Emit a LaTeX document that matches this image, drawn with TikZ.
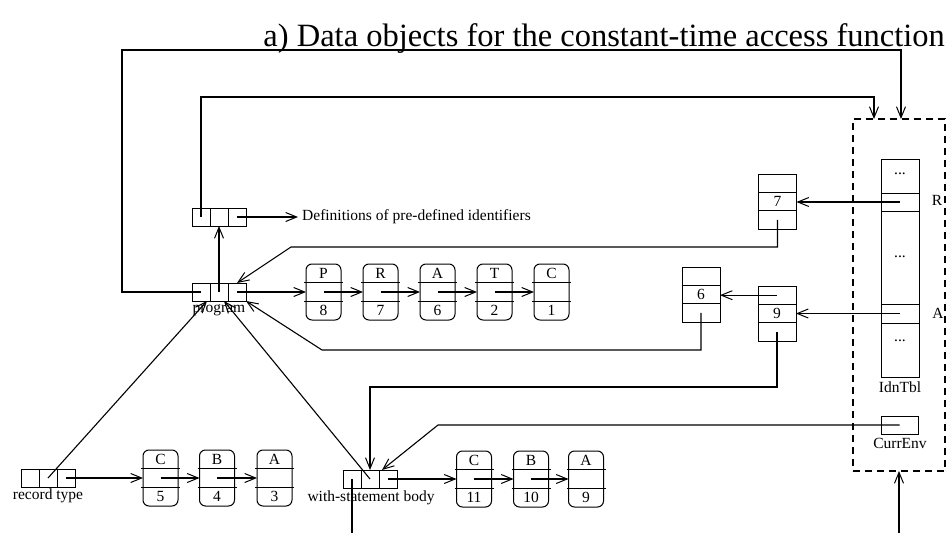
\documentclass[tikz,border=0pt]{standalone}
\usepackage{fontspec}
\setmainfont{Liberation Serif}
\usetikzlibrary{arrows.meta,calc}
\newcommand\recnode[5]{%
  \node[rec] (#1) at (#2,#3) {};
  \draw[bl] ([xshift=-2pt,yshift=9.3pt]#1.west) -- ([xshift=2pt,yshift=9.3pt]#1.east);
  \draw[bl] ([xshift=-2pt,yshift=-9.3pt]#1.west) -- ([xshift=2pt,yshift=-9.3pt]#1.east);
  \node[txt] (#1-t) at ([yshift=18.6pt]#1.center) {#4};
  \node[txt] (#1-b) at ([yshift=-18.6pt]#1.center) {#5};
}
\newcommand\tribox[4]{%
  \node[vbx] (#1) at (#2,#3) {};
  \draw[bl] ([yshift=9.2pt]#1.west) -- ([yshift=9.2pt]#1.east);
  \draw[bl] ([yshift=-9.2pt]#1.west) -- ([yshift=-9.2pt]#1.east);
  \node[txt] (#1-l) at (#1.center) {#4};
  \coordinate (#1-top) at ([yshift=18.3pt]#1.center);
  \coordinate (#1-bot) at ([yshift=-18.3pt]#1.center);
}
\begin{document}
\begin{tikzpicture}[x=1pt,y=-1pt,
  every node/.style={font=\fontsize{15.5}{18}\selectfont},
  ln/.style={line width=1.1pt},
  bl/.style={line width=1pt},
  arr/.style={ln,-{Straight Barb[length=11pt,width=9pt,line width=1pt]}},
  cell/.style={draw,line width=1pt,minimum width=18pt,minimum height=18pt,inner sep=0pt,outer sep=0pt},
  rec/.style={draw,line width=1pt,rounded corners=6pt,minimum width=35pt,minimum height=56pt,inner sep=0pt,outer sep=0pt},
  vbx/.style={draw,line width=1pt,minimum width=38pt,minimum height=55pt,inner sep=0pt,outer sep=0pt},
  idc/.style={draw,line width=1pt,minimum width=38pt,inner sep=0pt,outer sep=0pt},
  txt/.style={inner sep=0pt},
]
\useasboundingbox (0,0) rectangle (946,533);

% title
\node[anchor=base east,inner sep=0pt,font=\fontsize{32.5}{36}\selectfont] (title) at (945,46)
  {a) Data objects for the constant-time access function};

% environment (dashed)
\node[draw,line width=1.1pt,dash pattern=on 7pt off 5pt,minimum width=92pt,minimum height=352pt,inner sep=0pt,outer sep=0pt] (env) at (899,295) {};
\coordinate (envT1) at ([xshift=-25pt]env.north);
\coordinate (envT2) at ([xshift=2pt]env.north);

% IdnTbl
\node[idc,minimum height=34pt] (idn1) at (900,176) {};
\node[idc,minimum height=18pt] (idnR) at (900,202) {};
\node[idc,minimum height=93pt] (idn2) at (900,257.5) {};
\node[idc,minimum height=19pt] (idnA) at (900,313.5) {};
\node[idc,minimum height=54pt] (idn3) at (900,350) {};
\node[txt] (d1) at (900,174) {...};
\node[txt] (d2) at (900,257) {...};
\node[txt] (d3) at (900,341) {...};
\node[txt] (Rlab) at (937,200) {R};
\node[txt] (Alab) at (938,313) {A};
\node[txt] (idnlab) at (900,387) {IdnTbl};
\node[draw,line width=1pt,minimum width=37pt,minimum height=18pt,inner sep=0pt,outer sep=0pt] (cur) at (899.5,425) {};
\node[txt] (curlab) at (900,443) {CurrEnv};

% three-cell vertical boxes
\tribox{b7}{777.5}{201.5}{7}
\tribox{b6}{701}{294.5}{6}
\tribox{b9}{777}{313.5}{9}

% definitions box
\node[cell] (defA) at (201,217) {};
\node[cell] (defB) at (219,217) {};
\node[cell] (defC) at (237,217) {};
\node[txt,anchor=west] (deftxt) at (302,217) {Definitions of pre-defined identifiers};

% program box
\node[cell] (progA) at (201,292) {};
\node[cell] (progB) at (219,292) {};
\node[cell] (progC) at (237,292) {};
\node[txt] (proglab) at (219,310) {program};

% record type box
\node[cell] (recA) at (30,478) {};
\node[cell] (recB) at (48,478) {};
\node[cell] (recC) at (66,478) {};
\node[txt] (reclab) at (48,496) {record type};

% with-statement box
\node[cell] (withA) at (352,479) {};
\node[cell] (withB) at (370,479) {};
\node[cell] (withC) at (388,479) {};
\node[txt] (withlab) at (371,498) {with-statement body};

% record nodes
\recnode{p1}{323.5}{292}{P}{8}
\recnode{p2}{380.5}{292}{R}{7}
\recnode{p3}{437.5}{292}{A}{6}
\recnode{p4}{494.5}{292}{T}{2}
\recnode{p5}{551.5}{292}{C}{1}

\recnode{r1}{160.5}{478}{C}{5}
\recnode{r2}{217}{478}{B}{4}
\recnode{r3}{274.5}{478}{A}{3}

\recnode{w1}{474}{479}{C}{11}
\recnode{w2}{531}{479}{B}{10}
\recnode{w3}{586}{479}{A}{9}

% connectors
\draw[arr] (progA.center) -- (122,292) -- (122,50) -| (envT2);
\draw[arr] (defA.center) -- (201,97) -| (envT1);
\draw[arr] (progB.center) -- (defB.south);
\draw[arr] (defC.center) -- ([xshift=-4pt]deftxt.west);
\draw[arr] (progC.center) -- (p1.west);
\draw[arr] (p1.center) -- (p2.west);
\draw[arr] (p2.center) -- (p3.west);
\draw[arr] (p3.center) -- (p4.west);
\draw[arr] (p4.center) -- (p5.west);

\draw[arr] (recC.center) -- (r1.west);
\draw[arr] (r1.center) -- (r2.west);
\draw[arr] (r2.center) -- (r3.west);

\draw[arr] (withC.center) -- (w1.west);
\draw[arr] (w1.center) -- (w2.west);
\draw[arr] (w2.center) -- (w3.west);

\draw[arr] (idnR.center) -- (idnR.center -| b7.east);
\draw[arr] (idnA.center) -- (idnA.center -| b9.east);
\draw[arr] (b9-top) -- (b9-top -| b6.east);

\draw[arr] (b7-bot) -- (777.5,247) -- (291,247) -- (progC.north);
\draw[arr] (b6-bot) -- (701,350) -- (322,350) -- (progC.south east);
\draw[arr] (b9-bot) -- (777,387) -- (370,387) -- (withB.north);
\draw[arr] (cur.center) -- (438,425) -- ([xshift=3pt]withC.north west);

\draw[arr] (recB.center) -- ([xshift=-3pt]progA.south east);
\draw[arr] (withB.center) -- ([xshift=5pt]progB.south);

\coordinate (bot1) at (352,533);
\coordinate (bot2) at (899,533);
\draw[ln] (withA.center) -- (bot1);
\draw[arr] (bot2) -- (env.south);
\end{tikzpicture}
\end{document}
